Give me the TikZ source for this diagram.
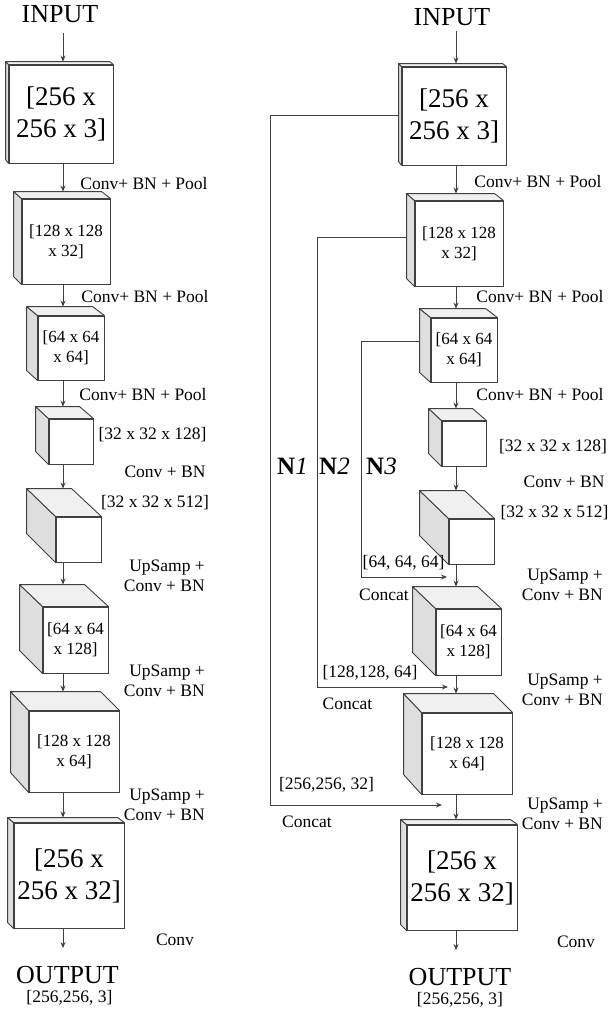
\documentclass[tikz,border=0pt]{standalone}
\usepackage{fontspec}
\setmainfont{Liberation Serif}
\usetikzlibrary{arrows.meta}

\newcommand{\bigf}{\fontsize{27}{32}\selectfont}
\newcommand{\smallf}{\fontsize{17}{20}\selectfont}

\tikzstyle{cube}=[draw=black!75,fill=white,line width=0.9pt,inner sep=0pt,align=center]
\tikzstyle{sideface}=[draw=black!75,fill=black!13,line width=0.9pt,line join=round]
\tikzstyle{topface}=[draw=black!75,fill=black!6,line width=0.9pt,line join=round]
\tikzstyle{arr}=[draw=black!75,line width=0.9pt,-{Stealth[length=6pt,width=5pt]}]
\tikzstyle{lbl}=[font=\fontsize{17.5}{20.5}\selectfont,inner sep=0pt,align=right]
\tikzstyle{io}=[font=\fontsize{26}{30}\selectfont,inner sep=0pt]
\tikzstyle{tag}=[font=\fontsize{25}{28}\selectfont,inner sep=0pt]

\begin{document}
\begin{tikzpicture}[x=1pt,y=-1pt]
    \useasboundingbox (0,0) rectangle (608,1015);
    \coordinate (lcol) at (63,0);
    \coordinate (rcol) at (456,0);

    % both columns: same cubes, right one shifted
    \foreach \col/\sx/\sy in {l/0/0,r/393/2}{
      \foreach \n/\x/\y/\w/\h/\dx/\dy/\fnt/\txt in {
        1/61/114/104/98/3/3/\bigf/{[256 x\\256 x 3]},
        2/66/241.5/88/85/8/7/\smallf/{[128 x 128\\x 32]},
        3/71/348/66/64/11/9/\smallf/{[64 x 64\\x 64]},
        4/71/441.5/44/45/13/12/\smallf/{},
        5/78.5/539.5/45/45/29/28/\smallf/{},
        6/75.5/640/65/66/23/22/\smallf/{[64 x 64\\x 128]},
        7/74/751.5/90/81/18/19/\smallf/{[128 x 128\\x 64]},
        8/69/875.5/110/105/6/5/\bigf/{[256 x\\256 x 32]}}{
        \node[cube,font=\fnt,minimum width=\w,minimum height=\h] (\col\n) at (\x+\sx,\y+\sy) {\txt};
        \draw[sideface] (\col\n.north west) -- ++(-\dx,-\dy) -- ++(0,\h) -- (\col\n.south west) -- cycle;
        \draw[topface] (\col\n.north west) -- ++(-\dx,-\dy) coordinate (\col\n top) -- ++(\w,0) -- (\col\n.north east) -- cycle;
      }
      \foreach \from/\to in {1/2,2/3,3/4,4/5,5/6,6/7,7/8}
        \draw[arr] (\col\from.south -| \col col) -- (\col\to top -| \col col);
    }

    \node[io] (lin) at (60,14) {INPUT};
    \node[io] (rin) at (452,17) {INPUT};
    \node[io] (lout) at (67.5,975) {OUTPUT};
    \node[io] (rout) at (460,977) {OUTPUT};
    \node[lbl] (lsize) at (69.5,998) {[256,256, 3]};
    \node[lbl] (rsize) at (460,1000) {[256,256, 3]};
    \draw[arr,shorten <=10pt] (lin.south -| lcol) -- (l1top -| lcol);
    \draw[arr,shorten <=5pt] (rin.south -| rcol) -- (r1top -| rcol);
    \draw[arr,shorten >=18pt] (l8.south -| lcol) -- (lout.north -| lcol);
    \draw[arr,shorten >=18pt] (r8.south -| rcol) -- (rout.north -| rcol);

    % left labels
    \node[lbl] (lop1) at (144,184) {Conv+ BN + Pool};
    \node[lbl] (lop2) at (145,297) {Conv+ BN + Pool};
    \node[lbl] (lop3) at (143,395) {Conv+ BN + Pool};
    \node[lbl] (ld128) at (152.5,435) {[32 x 32 x 128]};
    \node[lbl] (lop4) at (165,472) {Conv + BN};
    \node[lbl] (ld512) at (155,503) {[32 x 32 x 512]};
    \node[lbl,anchor=east] (lup1) at (205,576) {UpSamp +\\Conv + BN};
    \node[lbl,anchor=east] (lup2) at (205,681) {UpSamp +\\Conv + BN};
    \node[lbl,anchor=east] (lup3) at (205,805) {UpSamp +\\Conv + BN};
    \node[lbl] (lop5) at (175,940) {Conv};

    % right labels
    \node[lbl] (rop1) at (538,182) {Conv+ BN + Pool};
    \node[lbl] (rop2) at (540,297) {Conv+ BN + Pool};
    \node[lbl] (rop3) at (540,395) {Conv+ BN + Pool};
    \node[lbl] (rd128) at (553,447) {[32 x 32 x 128]};
    \node[lbl] (rop4) at (564,482) {Conv + BN};
    \node[lbl] (rd512) at (554.5,513) {[32 x 32 x 512]};
    \node[lbl,anchor=east] (rup1) at (603,585) {UpSamp +\\Conv + BN};
    \node[lbl,anchor=east] (rup2) at (603,690) {UpSamp +\\Conv + BN};
    \node[lbl,anchor=east] (rup3) at (603,814) {UpSamp +\\Conv + BN};
    \node[lbl] (rop5) at (576,942) {Conv};

    % skip connections
    \coordinate (s1) at ([xshift=-3pt,yshift=1pt]r1.west);
    \coordinate (s2) at ([xshift=-8pt,yshift=6pt]r2.west);
    \coordinate (s3) at ([xshift=-11pt,yshift=9pt]r3.west);
    \coordinate (k1) at (270,0);
    \coordinate (k2) at (317,0);
    \coordinate (k3) at (361,0);
    \coordinate (e1) at (442,805);
    \coordinate (e2) at (448,687);
    \coordinate (e3) at (447,577);
    \foreach \i in {1,2,3}
      \draw[arr] (s\i) -- (k\i |- s\i) |- (e\i);

    \node[tag,anchor=base west] (n1) at (277,474) {\textbf{N}\textit{1}};
    \node[tag,anchor=base west] (n2) at (319,474) {\textbf{N}\textit{2}};
    \node[tag,anchor=base west] (n3) at (366,474) {\textbf{N}\textit{3}};

    \node[lbl] (dim3) at (403.5,563) {[64, 64, 64]};
    \node[lbl] (cat3) at (384,595) {Concat};
    \node[lbl] (dim2) at (370,673) {[128,128, 64]};
    \node[lbl] (cat2) at (347.5,704) {Concat};
    \node[lbl] (dim1) at (326.5,785) {[256,256, 32]};
    \node[lbl] (cat1) at (307,822) {Concat};
\end{tikzpicture}
\end{document}
